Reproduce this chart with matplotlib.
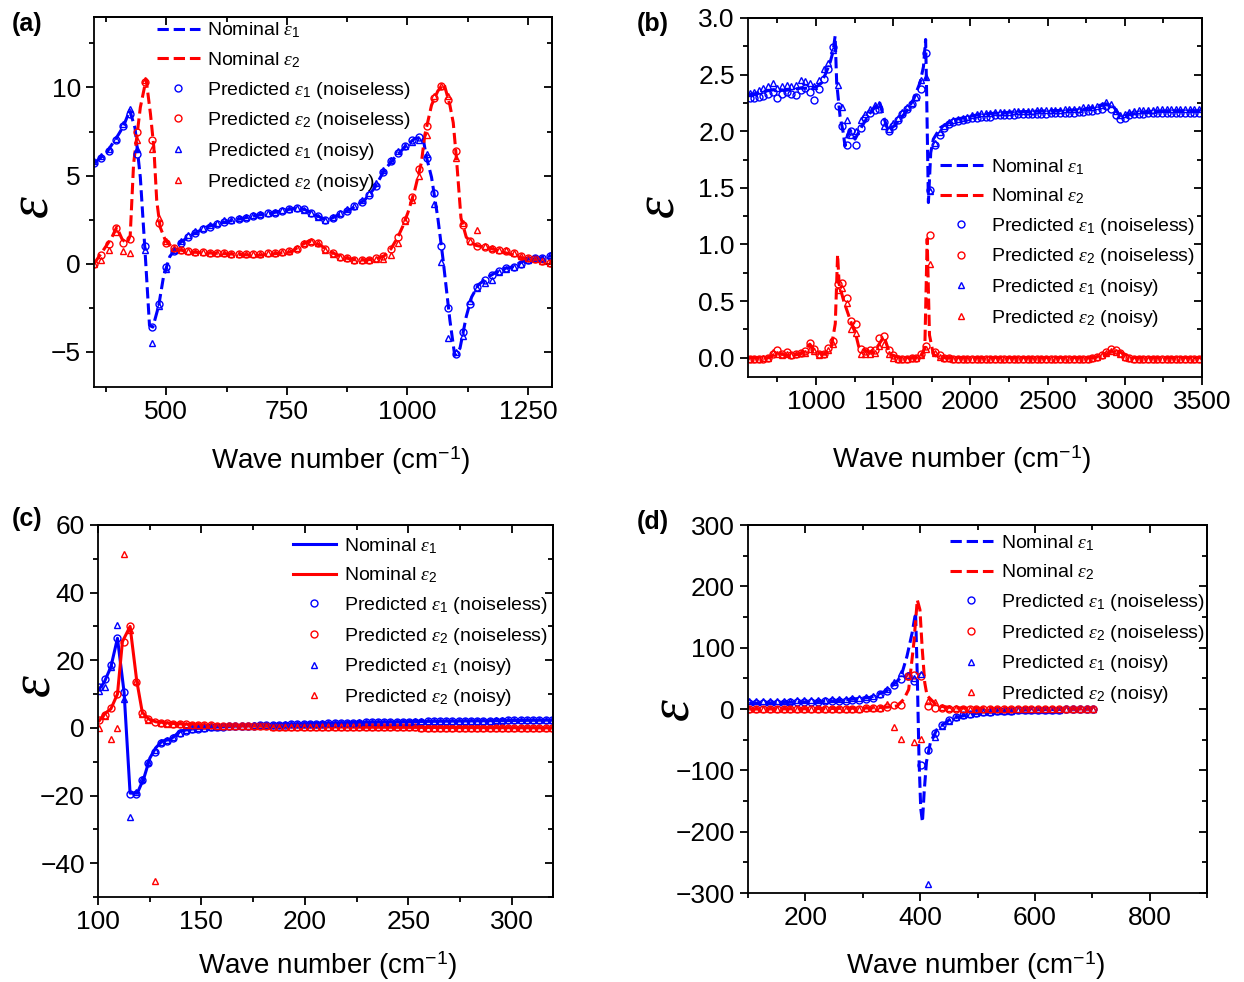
# -*- coding: utf-8 -*-
import matplotlib
matplotlib.use("Agg")
import matplotlib.pyplot as plt
from matplotlib.ticker import MultipleLocator, AutoMinorLocator, NullFormatter

plt.rcParams['font.family'] = ['Liberation Sans', 'DejaVu Sans']
plt.rcParams['mathtext.fontset'] = 'custom'
plt.rcParams['mathtext.it'] = 'Liberation Serif:italic'
plt.rcParams['mathtext.rm'] = 'Liberation Sans'
plt.rcParams['mathtext.sf'] = 'Liberation Sans'
plt.rcParams['axes.linewidth'] = 1.3

# Panel (a)
wn_a_nom1 = [350, 376, 400, 411, 424, 435, 446, 456, 465, 472, 484, 494, 507, 529, 550, 585, 619, 654, 689, 723,
             758, 775, 793, 814, 834, 855, 883, 911, 932, 952, 973, 994, 1015, 1032, 1039, 1050, 1063, 1074, 1088, 1098,
             1109, 1122, 1133, 1147, 1168, 1195, 1216, 1244, 1272, 1300]
e1_a_nom = [5.7, 6.3, 7.3, 7.8, 8.7, 7.7, 4.9, 0.6, -3.5, -3.6, -2.4, -0.75, 0.4, 1.2, 1.6, 2.1, 2.35, 2.55, 2.75, 2.9,
            3.1, 3.2, 3.0, 2.7, 2.45, 2.75, 3.1, 3.6, 4.3, 5.3, 6.0, 6.6, 7.1, 7.2, 6.1, 4.9, 2.6, 0.2, -3.2, -5.2,
            -4.8, -3.0, -1.9, -1.2, -0.75, -0.3, -0.2, 0.2, 0.3, 0.45]
wn_a_nom2 = [350, 362, 376, 387, 397, 408, 418, 425, 432, 446, 458, 467, 474, 480, 487, 498, 515, 550, 619, 689,
             758, 779, 796, 820, 841, 869, 897, 932, 952, 966, 980, 990, 1001, 1015, 1029, 1036, 1050, 1063, 1076, 1088,
             1095, 1102, 1111, 1122, 1140, 1175, 1209, 1244, 1300]
e2_a_nom = [0.0, 0.47, 1.04, 1.5, 2.08, 1.4, 1.13, 1.6, 5.66, 8.87, 10.47, 8.5, 6.6, 3.58, 2.08, 1.32, 0.85, 0.66, 0.57, 0.47,
            0.66, 1.04, 1.3, 1.04, 0.66, 0.34, 0.19, 0.25, 0.45, 0.85, 1.5, 2.1, 2.9, 4.15, 5.75, 7.3, 9.0, 9.8, 10.2, 9.0,
            8.0, 5.85, 2.6, 1.5, 1.05, 0.85, 0.57, 0.28, 0.0]
wn_a_pts = [350, 365, 380, 395, 410, 425, 440, 455, 470, 485, 500, 515, 530, 545, 560, 575, 590, 605, 620, 635,
            650, 665, 680, 695, 710, 725, 740, 755, 770, 785, 800, 815, 830, 845, 860, 875, 890, 905, 920, 935,
            950, 965, 980, 995, 1010, 1025, 1040, 1055, 1070, 1085, 1100, 1115, 1130, 1145, 1160, 1175, 1190, 1205, 1220, 1235,
            1250, 1265, 1280, 1295]
e1_a_clean = [5.7, 6.0, 6.4, 7.0, 7.8, 8.5, 6.2, 1.0, -3.6, -2.3, -0.2, 0.7, 1.2, 1.5, 1.75, 1.95, 2.1, 2.25, 2.35, 2.45,
              2.55, 2.6, 2.7, 2.75, 2.85, 2.9, 3.0, 3.1, 3.15, 3.1, 2.9, 2.7, 2.5, 2.6, 2.8, 3.0, 3.25, 3.5, 3.9, 4.4,
              5.2, 5.8, 6.3, 6.65, 7.0, 7.2, 6.0, 4.0, 1.0, -2.5, -5.1, -3.9, -2.3, -1.3, -0.9, -0.65, -0.4, -0.25, -0.2, 0.0,
              0.2, 0.3, 0.35, 0.45]
e1_a_noisy = [5.8, 6.1, 6.5, 7.1, 7.9, 8.8, 6.5, 0.8, -4.5, -2.4, -0.3, 0.8, 1.3, 1.6, 1.85, 2.05, 2.2, 2.3, 2.45, 2.5,
              2.6, 2.65, 2.75, 2.8, 2.9, 2.95, 3.05, 3.1, 3.15, 3.05, 2.9, 2.65, 2.5, 2.65, 2.85, 3.1, 3.3, 3.6, 4.0, 4.6,
              5.3, 5.9, 6.4, 6.7, 6.9, 7.0, 6.2, 3.4, 0.1, -4.2, -5.0, -4.1, -2.1, -1.4, -1.1, -0.9, -0.5, -0.3, -0.2, 0.0,
              0.2, 0.3, 0.35, 0.5]
e2_a_clean = [0.0, 0.5, 1.1, 2.0, 1.2, 1.4, 7.5, 10.3, 7.0, 2.3, 1.2, 0.9, 0.75, 0.7, 0.68, 0.65, 0.62, 0.6, 0.58, 0.55,
              0.55, 0.55, 0.55, 0.55, 0.58, 0.6, 0.65, 0.7, 0.85, 1.1, 1.25, 1.15, 0.85, 0.6, 0.4, 0.3, 0.22, 0.2, 0.22, 0.3,
              0.45, 0.85, 1.5, 2.5, 3.8, 5.4, 7.8, 9.4, 10.1, 9.3, 6.4, 2.2, 1.3, 1.0, 0.95, 0.85, 0.8, 0.7, 0.6, 0.45,
              0.35, 0.25, 0.15, 0.05]
e2_a_noisy = [0.0, 0.2, 0.8, 1.8, 0.7, 0.6, 7.0, 10.4, 6.5, 2.6, 1.3, 0.9, 0.75, 0.7, 0.65, 0.65, 0.6, 0.6, 0.58, 0.55,
              0.55, 0.55, 0.55, 0.55, 0.6, 0.62, 0.65, 0.72, 0.9, 1.2, 1.3, 1.2, 0.8, 0.55, 0.4, 0.3, 0.2, 0.2, 0.2, 0.25,
              0.25, 0.5, 1.2, 2.4, 3.6, 5.0, 7.3, 9.5, 10.1, 9.5, 6.0, 2.3, 1.3, 1.9, 1.0, 0.9, 0.8, 0.75, 0.6, 0.45,
              0.35, 0.25, 0.15, 0.05]

# Panel (b)
wn_b_nom1 = [560, 600, 650, 700, 750, 800, 850, 900, 950, 1000, 1030, 1060, 1090, 1110, 1124, 1134, 1156, 1175, 1188, 1205,
             1221, 1253, 1296, 1350, 1411, 1437, 1469, 1523, 1588, 1631, 1674, 1696, 1710, 1717, 1728, 1743, 1760, 1804, 1890, 2063,
             2279, 2500, 2710, 2800, 2862, 2926, 2969, 3034, 3142, 3300, 3500]
e1_b_nom = [2.32, 2.33, 2.35, 2.36, 2.37, 2.36, 2.37, 2.38, 2.38, 2.39, 2.42, 2.5, 2.6, 2.7, 2.84, 2.43, 2.13, 2.0, 1.87, 1.97,
            2.01, 1.93, 2.04, 2.16, 2.26, 2.13, 2.0, 2.07, 2.18, 2.28, 2.43, 2.57, 2.81, 2.3, 1.37, 1.81, 1.93, 2.03, 2.1, 2.15,
            2.17, 2.18, 2.19, 2.21, 2.24, 2.22, 2.13, 2.15, 2.17, 2.18, 2.18]
wn_b_nom2 = [560, 700, 750, 800, 900, 960, 1000, 1060, 1100, 1125, 1140, 1150, 1180, 1230, 1250, 1280, 1350, 1400, 1440, 1480,
             1550, 1680, 1705, 1720, 1735, 1760, 1800, 2800, 2880, 2926, 2970, 3050, 3500]
e2_b_nom = [0.0, 0.0, 0.05, 0.02, 0.03, 0.12, 0.05, 0.03, 0.1, 0.3, 0.91, 0.65, 0.5, 0.3, 0.25, 0.08, 0.05, 0.1, 0.19, 0.03,
            0.0, 0.0, 0.1, 1.05, 0.2, 0.03, 0.0, 0.0, 0.03, 0.07, 0.05, 0.0, 0.0]
wn_b_pts = [570, 600, 630, 660, 690, 720, 750, 780, 810, 840, 870, 900, 930, 960, 990, 1020, 1050, 1080, 1110, 1140,
            1170, 1200, 1230, 1260, 1290, 1320, 1350, 1380, 1410, 1440, 1470, 1500, 1530, 1560, 1590, 1620, 1650, 1680, 1710, 1740,
            1770, 1800, 1830, 1860, 1890, 1920, 1950, 1980, 2010, 2040, 2070, 2100, 2130, 2160, 2190, 2220, 2250, 2280, 2310, 2340,
            2370, 2400, 2430, 2460, 2490, 2520, 2550, 2580, 2610, 2640, 2670, 2700, 2730, 2760, 2790, 2820, 2850, 2880, 2910, 2940,
            2970, 3000, 3030, 3060, 3090, 3120, 3150, 3180, 3210, 3240, 3270, 3300, 3330, 3360, 3390, 3420, 3450, 3480]
e1_b_clean = [2.29, 2.29, 2.30, 2.31, 2.33, 2.35, 2.29, 2.33, 2.35, 2.33, 2.32, 2.36, 2.38, 2.35, 2.28,
              2.37, 2.46, 2.55, 2.74, 2.22, 2.05, 1.88, 2.0, 1.88, 2.03, 2.12, 2.16, 2.19, 2.2, 2.08,
              2.0, 2.05, 2.1, 2.15, 2.2, 2.24, 2.3, 2.37, 2.69, 1.48,
              1.88, 1.97, 2.03, 2.06, 2.08, 2.09, 2.1, 2.11, 2.12, 2.12,
              2.13, 2.13, 2.13, 2.14, 2.14, 2.14, 2.14, 2.14, 2.15, 2.15, 2.15, 2.15, 2.15, 2.15, 2.15, 2.16,
              2.16, 2.16, 2.16, 2.16, 2.16, 2.17, 2.17, 2.18,
              2.18, 2.19, 2.2, 2.22, 2.2, 2.14, 2.11, 2.12, 2.14, 2.15,
              2.15, 2.15, 2.16, 2.16, 2.16, 2.16, 2.16, 2.16, 2.16, 2.16, 2.16, 2.16, 2.16, 2.16]
e1_b_noisy = [2.34, 2.35, 2.36, 2.38, 2.40, 2.43, 2.38, 2.40, 2.41, 2.40, 2.41, 2.45, 2.44, 2.43, 2.40,
              2.45, 2.55, 2.6, 2.72, 2.41, 2.21, 2.1, 1.97, 2.0, 2.1, 2.15, 2.2, 2.23, 2.24, 2.05,
              2.02, 2.07, 2.12, 2.17, 2.21, 2.25, 2.3, 2.45, 2.48, 1.47,
              1.9, 1.99, 2.05, 2.08, 2.1, 2.11, 2.12, 2.13, 2.14, 2.15,
              2.16, 2.16, 2.16, 2.17, 2.17, 2.17, 2.17, 2.18, 2.18, 2.18, 2.18, 2.18, 2.19, 2.19, 2.19, 2.19,
              2.19, 2.19, 2.2, 2.2, 2.2, 2.2, 2.21, 2.21,
              2.21, 2.22, 2.23, 2.26, 2.24, 2.18, 2.14, 2.15, 2.17, 2.18,
              2.19, 2.19, 2.19, 2.19, 2.2, 2.2, 2.2, 2.2, 2.2, 2.2, 2.2, 2.2, 2.2, 2.2]
e2_b_clean = [-0.01, -0.01, -0.01, -0.01, 0.0, 0.03, 0.07, 0.03, 0.05, 0.02, 0.03, 0.04, 0.06, 0.13, 0.08,
              0.03, 0.03, 0.09, 0.15, 0.65, 0.66, 0.53, 0.32, 0.3, 0.08, 0.06, 0.07, 0.07, 0.17, 0.19,
              0.07, 0.02, -0.01, -0.01, -0.01, 0.0, 0.0, 0.03, 0.1, 1.08,
              0.05, 0.02, 0.0, 0.0, -0.01, -0.01, -0.01, -0.01, -0.01, -0.01,
              -0.01, -0.01, -0.01, -0.01, -0.01, -0.01, -0.01, -0.01, -0.01, -0.01, -0.01, -0.01, -0.01, -0.01, -0.01, -0.01,
              -0.01, -0.01, -0.01, -0.01, -0.01, -0.01, -0.01, -0.01,
              0.0, 0.01, 0.02, 0.05, 0.08, 0.07, 0.04, 0.01, 0.0, -0.01,
              -0.01, -0.01, -0.01, -0.01, -0.01, -0.01, -0.01, -0.01, -0.01, -0.01, -0.01, -0.01, -0.01, -0.01]
e2_b_noisy = [-0.01, -0.01, -0.01, 0.0, 0.0, 0.05, 0.03, 0.02, 0.03, 0.02, 0.03, 0.04, 0.04, 0.08, 0.06,
              0.02, 0.03, 0.07, 0.12, 0.6, 0.62, 0.48, 0.25, 0.22, 0.03, 0.03, 0.03, 0.04, 0.1, 0.12,
              0.03, 0.0, -0.01, -0.01, -0.01, 0.0, 0.0, 0.02, 0.08, 0.83,
              0.04, 0.01, 0.0, 0.0, -0.01, -0.01, -0.01, -0.01, -0.01, -0.01,
              -0.01, -0.01, -0.01, -0.01, -0.01, -0.01, -0.01, -0.01, -0.01, -0.01, -0.01, -0.01, -0.01, -0.01, -0.01, -0.01,
              -0.01, -0.01, -0.01, -0.01, -0.01, -0.01, -0.01, -0.01,
              0.0, 0.01, 0.02, 0.04, 0.06, 0.05, 0.03, 0.01, 0.0, -0.01,
              -0.01, -0.01, -0.01, -0.01, -0.01, -0.01, -0.01, -0.01, -0.01, -0.01, -0.01, -0.01, -0.01, -0.01]

# Panel (c)
wn_c_nom1 = [100.6, 103, 106.2, 109.4, 112.6, 115.5, 119, 122.2, 125.1, 127.9, 131, 135, 139.9, 144.7, 152.7, 168.7,
             192.8, 224.8, 256.9, 288.9, 320]
e1_c_nom = [11.5, 13.5, 18, 26.5, 10.5, -19.3, -19.3, -14.8, -8.9, -5.9, -3.9, -3.4, -0.9, -0.4, 0.1, 0.6,
            1.1, 1.6, 1.9, 2.1, 2.3]
wn_c_nom2 = [100.6, 103, 106.2, 109.4, 111.8, 115.5, 118.7, 121.4, 124.6, 127.9, 136.7, 152.7, 176.7, 224.8, 320]
e2_c_nom = [2.1, 4.1, 5.6, 10, 25.5, 30, 14, 4.6, 2.6, 1.8, 1.3, 0.8, 0.5, 0.2, 0.0]
wn_c_pts = [100.4, 103.4, 106.4, 109.4, 112.4, 115.4, 118.4, 121.4, 124.4, 127.4, 130.4, 133.4, 136.4, 139.4, 142.4,
            145.4, 148.4, 151.4, 154.4, 157.4, 160.4, 163.4, 166.4, 169.4, 172.4, 175.4, 178.4, 181.4, 184.4, 187.4,
            190.4, 193.4, 196.4, 199.4, 202.4, 205.4, 208.4, 211.4, 214.4, 217.4, 220.4, 223.4, 226.4, 229.4, 232.4,
            235.4, 238.4, 241.4, 244.4, 247.4, 250.4, 253.4, 256.4, 259.4, 262.4, 265.4, 268.4, 271.4, 274.4, 277.4,
            280.4, 283.4, 286.4, 289.4, 292.4, 295.4, 298.4, 301.4, 304.4, 307.4, 310.4, 313.4, 316.4, 319.4]
e1_c_clean = [12.0, 14.5, 18.5, 26.5, 10.5, -19.5, -19.5, -15.5, -10.5, -7.0, -4.5, -3.8, -3.0, -1.5, -0.8,
              -0.4, -0.2, 0.0, 0.2, 0.3, 0.4, 0.5, 0.55, 0.6, 0.65, 0.7, 0.75, 0.8, 0.85, 0.9,
              0.95, 1.0, 1.05, 1.1, 1.15, 1.2, 1.25, 1.3, 1.35, 1.4, 1.45, 1.5, 1.55, 1.6, 1.6,
              1.65, 1.7, 1.7, 1.75, 1.8, 1.8, 1.85, 1.85, 1.9, 1.9, 1.95, 1.95, 2.0, 2.0, 2.05,
              2.05, 2.1, 2.1, 2.1, 2.15, 2.15, 2.2, 2.2, 2.2, 2.25, 2.25, 2.25, 2.3, 2.3]
e1_c_noisy = [11.0, 12.0, 18.0, 30.4, 8.6, -26.3, -19.0, -15.0, -10.0, -6.5, -4.3, -3.6, -2.8, -1.4, -0.7,
              -0.3, -0.1, 0.1, 0.3, 0.4, 0.5, 0.55, 0.6, 0.65, 0.7, 0.75, 0.8, 0.85, 0.9, 0.95,
              1.0, 1.05, 1.1, 1.15, 1.2, 1.25, 1.3, 1.35, 1.4, 1.45, 1.5, 1.55, 1.6, 1.65, 1.65,
              1.7, 1.75, 1.75, 1.8, 1.85, 1.85, 1.9, 1.9, 1.95, 1.95, 2.0, 2.0, 2.05, 2.05, 2.1,
              2.1, 2.15, 2.15, 2.15, 2.2, 2.2, 2.25, 2.25, 2.25, 2.3, 2.3, 2.3, 2.35, 2.35]
e2_c_clean = [2.3, 3.9, 5.8, 10.0, 25.5, 30.0, 13.5, 4.5, 2.6, 1.8, 1.5, 1.3, 1.2, 1.1, 1.0,
              0.9, 0.85, 0.8, 0.75, 0.7, 0.65, 0.6, 0.55, 0.5, 0.48, 0.46, 0.44, 0.42, 0.4, 0.38,
              0.36, 0.34, 0.32, 0.3, 0.29, 0.28, 0.27, 0.26, 0.25, 0.24, 0.23, 0.22, 0.21, 0.2, 0.19,
              0.18, 0.17, 0.16, 0.15, 0.14, 0.13, 0.12, 0.11, 0.1, 0.1, 0.09, 0.09, 0.08, 0.08, 0.07,
              0.07, 0.06, 0.06, 0.05, 0.05, 0.05, 0.04, 0.04, 0.04, 0.03, 0.03, 0.03, 0.03, 0.02]
e2_c_noisy = [0.1, 3.5, -3.2, 0.1, 51.3, 29.0, 14.0, 4.0, 2.4, -45.4, 1.4, 1.2, 1.1, 1.0, 0.95,
              0.9, 0.85, 0.8, 0.75, 0.7, 0.65, 0.6, 0.55, 0.5, 0.48, 0.46, 0.44, 0.42, 0.4, 0.38,
              0.36, 0.34, 0.32, 0.3, 0.29, 0.28, 0.27, 0.26, 0.25, 0.24, 0.23, 0.22, 0.21, 0.2, 0.19,
              0.18, 0.17, 0.16, 0.15, 0.14, 0.13, 0.12, 0.11, 0.1, 0.1, 0.09, 0.09, 0.08, 0.08, 0.07,
              0.07, 0.06, 0.06, 0.05, 0.05, 0.05, 0.04, 0.04, 0.04, 0.03, 0.03, 0.03, 0.03, 0.02]

# Panel (d)
wn_d_nom1 = [102, 137, 196, 254, 313, 342, 366, 377, 386, 392, 395, 398, 401, 404, 407, 411, 418, 430, 453, 488,
             547, 605, 699]
e1_d_nom = [9.5, 10.2, 11.5, 13.5, 19, 30, 51, 86, 124, 157, 54, -81, -162, -184, -135, -86, -54, -32, -16, -8,
            -2.7, -1, 0]
wn_d_nom2 = [102, 200, 300, 340, 360, 371.5, 380, 389, 395, 399.6, 403.7, 408, 412, 430, 460, 500, 600, 699]
e2_d_nom = [0, 0.5, 1.5, 3, 5, 16, 32, 108, 178, 162, 97, 43, 22, 5, 2, 1, 0.3, 0]
wn_d_pts = [102, 114, 126, 138, 150, 162, 174, 186, 198, 210, 222, 234, 246, 258, 270, 282, 294, 306, 318, 330,
            342, 354, 366, 378, 390, 402, 414, 426, 438, 450, 462, 474, 486, 498, 510, 522, 534, 546, 558, 570,
            582, 594, 606, 618, 630, 642, 654, 666, 678, 690, 702]
e1_d_clean = [9.5, 9.7, 9.9, 10.1, 10.3, 10.5, 10.8, 11.0, 11.3, 11.6, 12.0, 12.4, 12.8, 13.3, 13.9, 14.6, 15.5, 16.6, 18.2, 24.0,
              30.0, 40.0, 49.0, 54.0, 45.0, -92.0, -66.0, -39.0, -26.0, -18.0, -13.0, -10.0, -8.0, -6.5, -5.3, -4.4, -3.6, -3.0, -2.5, -2.1,
              -1.8, -1.5, -1.3, -1.1, -0.9, -0.8, -0.7, -0.6, -0.5, -0.4, -0.3]
e1_d_noisy = [12.5, 12.7, 12.9, 13.1, 13.3, 13.5, 13.7, 14.0, 14.3, 14.6, 15.0, 15.4, 15.8, 16.3, 16.9, 17.6, 18.5, 19.6, 21.0, 25.0,
              32.0, 44.0, 58.0, 55.0, 50.0, 57.0, -286.0, -45.0, -28.0, -19.0, -13.5, -10.5, -8.3, -6.7, -5.5, -4.5, -3.7, -3.1, -2.6, -2.2,
              -1.8, -1.5, -1.3, -1.1, -0.9, -0.8, -0.7, -0.6, -0.5, -0.4, -0.3]
e2_d_clean = [0.0, 0.0, 0.0, 0.0, 0.0, 0.0, 0.1, 0.1, 0.1, 0.2, 0.2, 0.3, 0.3, 0.4, 0.5, 0.6, 0.8, 1.0, 1.5, 2.2,
              3.5, 6.0, 6.5, 54.0, 56.0, 54.0, 5.4, 2.0, 1.2, 0.8, 0.6, 0.5, 0.4, 0.3, 0.3, 0.2, 0.2, 0.2, 0.1, 0.1,
              0.1, 0.1, 0.1, 0.0, 0.0, 0.0, 0.0, 0.0, 0.0, 0.0, 0.0]
e2_d_noisy = [0.0, 0.0, 0.0, 0.0, 0.0, 0.0, 0.1, 0.1, 0.1, 0.2, 0.2, 0.3, 0.3, 0.4, 0.5, 0.6, 0.8, 1.0, 1.5, 2.5,
              8.0, -30.0, -49.0, 54.0, -54.0, -49.0, 13.5, 12.0, 3.0, 1.5, 1.0, 0.7, 0.5, 0.4, 0.3, 0.3, 0.2, 0.2, 0.2, 0.1,
              0.1, 0.1, 0.1, 0.1, 0.0, 0.0, 0.0, 0.0, 0.0, 0.0, 0.0]

AZUL = '#0000ff'
ROJO = '#ff0000'
ETIQUETAS = [r'Nominal $\varepsilon_1$', r'Nominal $\varepsilon_2$',
             r'Predicted $\varepsilon_1$ (noiseless)', r'Predicted $\varepsilon_2$ (noiseless)',
             r'Predicted $\varepsilon_1$ (noisy)', r'Predicted $\varepsilon_2$ (noisy)']


def estilo_ejes(ax, xlim, ylim, xmaj, ymaj):
    """Ejes estilo Origin: ticks hacia afuera abajo/izquierda, hacia adentro arriba/derecha"""
    ax.set_xlim(*xlim)
    ax.set_ylim(*ylim)
    ax.xaxis.set_major_locator(MultipleLocator(xmaj))
    ax.xaxis.set_minor_locator(AutoMinorLocator(2))
    ax.yaxis.set_major_locator(MultipleLocator(ymaj))
    ax.yaxis.set_minor_locator(AutoMinorLocator(2))
    ax.tick_params(which='both', direction='out', width=1.3, labelsize=19, top=False, right=False)
    ax.tick_params(which='major', length=6)
    ax.tick_params(which='minor', length=3.5)

    arriba = ax.secondary_xaxis('top')
    arriba.xaxis.set_major_locator(MultipleLocator(xmaj))
    arriba.xaxis.set_minor_locator(AutoMinorLocator(2))
    arriba.xaxis.set_major_formatter(NullFormatter())
    arriba.tick_params(which='both', direction='in', width=1.3)
    arriba.tick_params(which='major', length=6)
    arriba.tick_params(which='minor', length=3.5)

    derecha = ax.secondary_yaxis('right')
    derecha.yaxis.set_major_locator(MultipleLocator(ymaj))
    derecha.yaxis.set_minor_locator(AutoMinorLocator(2))
    derecha.yaxis.set_major_formatter(NullFormatter())
    derecha.tick_params(which='both', direction='in', width=1.3)
    derecha.tick_params(which='major', length=6)
    derecha.tick_params(which='minor', length=3.5)


def graficar_panel(ax, nom1, nom2, pts, estilo, leg_pos):
    """Curvas nominales + predicciones (sin ruido y con ruido) en un panel"""
    ax.plot(nom1[0], nom1[1], ls=estilo, color=AZUL, lw=2.2)
    ax.plot(nom2[0], nom2[1], ls=estilo, color=ROJO, lw=2.2)
    wn, c1, c2, n1, n2 = pts
    kw = dict(ls='none', mfc='none', ms=5, mew=1.0)
    ax.plot(wn, c1, marker='o', mec=AZUL, **kw)
    ax.plot(wn, c2, marker='o', mec=ROJO, **kw)
    ax.plot(wn, n1, marker='^', mec=AZUL, **kw)
    ax.plot(wn, n2, marker='^', mec=ROJO, **kw)
    ax.legend(ETIQUETAS, loc='upper left', bbox_to_anchor=leg_pos, frameon=False, fontsize=14,
              handlelength=2.2, handletextpad=0.4, labelspacing=0.5, borderpad=0, borderaxespad=0)


def etiquetas(ax, xl_pos, yl_pos):
    ax.set_xlabel('Wave number (cm$^{-1}$)', fontsize=20, va='center')
    ax.xaxis.set_label_coords(*xl_pos)
    ax.set_ylabel(r'$\varepsilon$', fontsize=40, va='center')
    ax.yaxis.set_label_coords(*yl_pos)


fig = plt.figure(figsize=(12.44, 9.82), dpi=100)

ax_a = fig.add_axes([0.0756, 0.6059, 0.3682, 0.3768])
graficar_panel(ax_a, (wn_a_nom1, e1_a_nom), (wn_a_nom2, e2_a_nom),
               (wn_a_pts, e1_a_clean, e2_a_clean, e1_a_noisy, e2_a_noisy), '--', (0.137, 0.99))
estilo_ejes(ax_a, (350, 1300), (-7, 14), 250, 5)
etiquetas(ax_a, (0.539, -0.2), (-0.133, 0.486))

ax_b = fig.add_axes([0.6013, 0.6161, 0.3650, 0.3656])
graficar_panel(ax_b, (wn_b_nom1, e1_b_nom), (wn_b_nom2, e2_b_nom),
               (wn_b_pts, e1_b_clean, e2_b_clean, e1_b_noisy, e2_b_noisy), '--', (0.423, 0.613))
estilo_ejes(ax_b, (560, 3500), (-0.17, 3.0), 500, 0.5)
etiquetas(ax_b, (0.471, -0.231), (-0.196, 0.474))

ax_c = fig.add_axes([0.0788, 0.0866, 0.3657, 0.3788])
graficar_panel(ax_c, (wn_c_nom1, e1_c_nom), (wn_c_nom2, e2_c_nom),
               (wn_c_pts, e1_c_clean, e2_c_clean, e1_c_noisy, e2_c_noisy), '-', (0.4286, 0.97))
estilo_ejes(ax_c, (100, 320), (-50, 60), 50, 20)
etiquetas(ax_c, (0.504, -0.185), (-0.138, 0.567))

ax_d = fig.add_axes([0.6013, 0.0906, 0.3690, 0.3747])
graficar_panel(ax_d, (wn_d_nom1, e1_d_nom), (wn_d_nom2, e2_d_nom),
               (wn_d_pts, e1_d_clean, e2_d_clean, e1_d_noisy, e2_d_noisy), '--', (0.44, 0.978))
estilo_ejes(ax_d, (100, 900), (-300, 300), 200, 100)
etiquetas(ax_d, (0.496, -0.198), (-0.161, 0.497))

# Letras de los paneles
for letra, (px, py) in zip(['(a)', '(b)', '(c)', '(d)'],
                           [(0.0096, 0.9756), (0.512, 0.9756), (0.0096, 0.4715), (0.512, 0.4684)]):
    fig.text(px, py, letra, fontsize=18, fontweight='bold', ha='left', va='center')

fig.savefig('out.png', dpi=100)
